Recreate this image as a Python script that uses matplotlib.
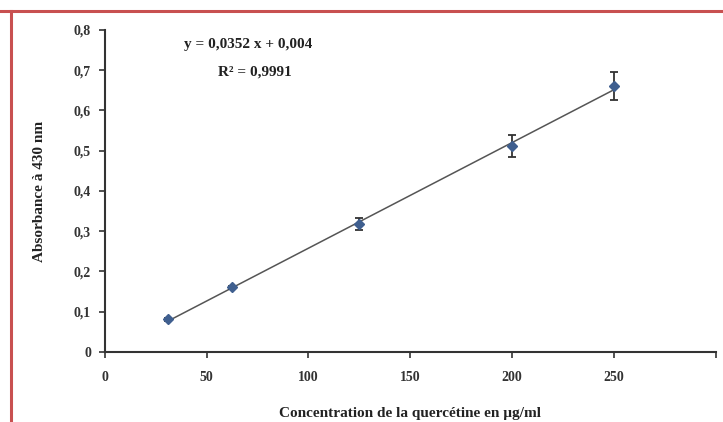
import numpy as np
import matplotlib.pyplot as plt
from matplotlib.lines import Line2D

# data
concentration = [31.25, 62.5, 125, 200, 250]
absorbance = [0.081, 0.161, 0.318, 0.512, 0.660]
errors = [0.004, 0.004, 0.015, 0.028, 0.035]
x_ticks = [0, 50, 100, 150, 200, 250, 300]
x_tick_labels = ['0', '50', '100', '150', '200', '250', '']
y_ticks = [0, 0.1, 0.2, 0.3, 0.4, 0.5, 0.6, 0.7, 0.8]
y_tick_labels = ['0', '0,1', '0,2', '0,3', '0,4', '0,5', '0,6', '0,7', '0,8']

plt.rcParams['font.family'] = ['Liberation Serif', 'DejaVu Serif']
plt.rcParams['font.weight'] = 'bold'

fig = plt.figure(figsize=(7.23, 4.22), dpi=100)
ax = fig.add_axes([0.145, 0.166, 0.845, 0.763])

# linear fit through the points
slope, intercept = np.polyfit(concentration, absorbance, 1)
xs = np.array([concentration[0], concentration[-1]])
ax.plot(xs, slope * xs + intercept, color='#555555', lw=1.1, zorder=2)

ax.errorbar(concentration, absorbance, yerr=errors, fmt='D', color='#3f5f8f',
            markersize=5.5, ecolor='#333333', elinewidth=1.3, capsize=3,
            capthick=1.3, zorder=3)

ax.set_xlim(0, 300)
ax.set_ylim(0, 0.8)
ax.set_xticks(x_ticks)
ax.set_xticklabels(x_tick_labels)
ax.set_yticks(y_ticks)
ax.set_yticklabels(y_tick_labels)
ax.tick_params(labelsize=10, colors='#333333', length=4, width=1.2)
ax.tick_params(axis='x', pad=10)
ax.tick_params(axis='y', pad=6)
for lab in ax.get_xticklabels() + ax.get_yticklabels():
    lab.set_fontweight('bold')

ax.spines['top'].set_visible(False)
ax.spines['right'].set_visible(False)
ax.spines['left'].set_linewidth(1.5)
ax.spines['bottom'].set_linewidth(1.5)
ax.spines['left'].set_color('#333333')
ax.spines['bottom'].set_color('#333333')

ax.set_xlabel('Concentration de la quercétine en µg/ml', fontsize=11,
              fontweight='bold', labelpad=16, color='#222222')
ax.set_ylabel('Absorbance à 430 nm', fontsize=11, fontweight='bold',
              labelpad=20, color='#222222')

ax.text(0.235, 0.955, 'y = 0,0352 x + 0,004', transform=ax.transAxes,
        fontsize=11, fontweight='bold', ha='center', va='center', color='#222222')
ax.text(0.245, 0.87, 'R² = 0,9991', transform=ax.transAxes,
        fontsize=11, fontweight='bold', ha='center', va='center', color='#222222')

# red frame on top and left of the image
fig.add_artist(Line2D([0, 1], [1 - 11 / 422, 1 - 11 / 422], color='#c85050', lw=2.2,
                      transform=fig.transFigure))
fig.add_artist(Line2D([11 / 723, 11 / 723], [0, 1 - 11 / 422], color='#c85050', lw=2.2,
                      transform=fig.transFigure))

fig.savefig('out.png', dpi=100)
